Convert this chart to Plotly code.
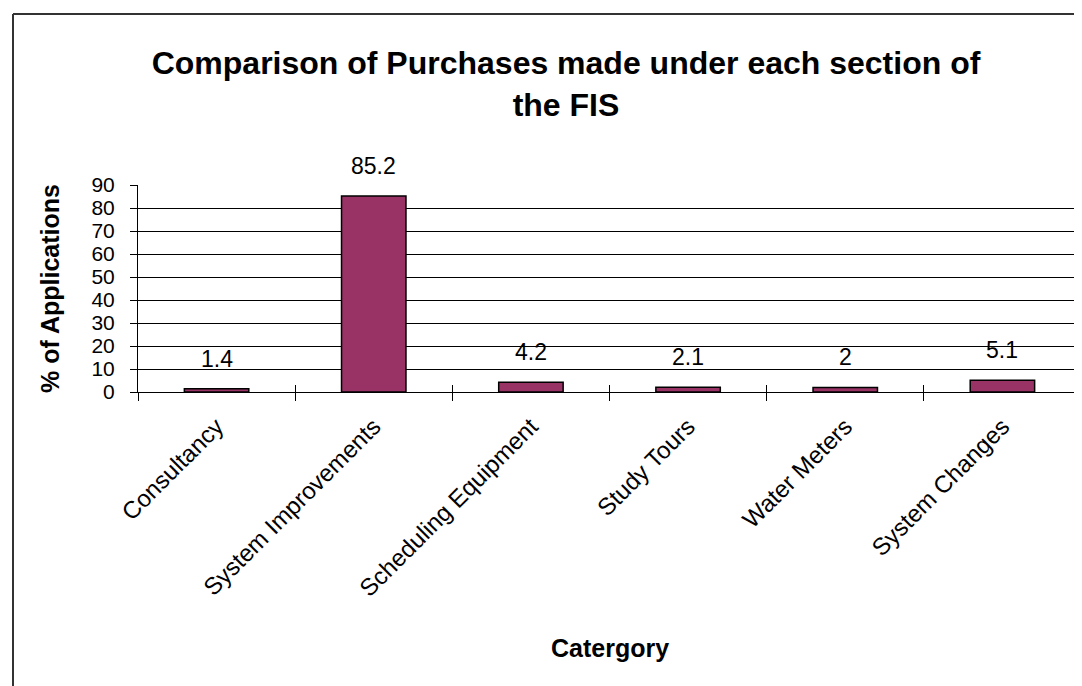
import plotly.graph_objects as go

categories = ["Consultancy", "System Improvements", "Scheduling Equipment",
              "Study Tours", "Water Meters", "System Changes"]
values = [1.4, 85.2, 4.2, 2.1, 2.0, 5.1]
value_labels = ["1.4", "85.2", "4.2", "2.1", "2", "5.1"]
y_ticks = [0, 10, 20, 30, 40, 50, 60, 70, 80, 90]
grid_ticks = [10, 20, 30, 40, 50, 60, 70, 80]

title_text = "Comparison of Purchases made under each section of<br>the FIS"
x_title = "Catergory"
y_title = "% of Applications"

FONT = "Liberation Sans, Arial, sans-serif"
W, H = 1082, 686
L, R, T, B = 130, 9, 177, 302
pw, ph = W - L - R, H - T - B


def px_x(p):
    return (p - L) / pw


def px_y(p):
    return (H - B - p) / ph


fig = go.Figure()
fig.add_trace(go.Bar(
    x=categories, y=values, width=0.41,
    marker=dict(color="#993366", line=dict(color="black", width=1.5)),
    hoverinfo="x+y", xaxis="x", yaxis="y",
))
# invisible helpers so overlay axes are drawn
fig.add_trace(go.Scatter(x=categories, y=values, mode="markers",
                         marker=dict(opacity=0), hoverinfo="skip",
                         xaxis="x2", yaxis="y2", showlegend=False))
fig.add_trace(go.Scatter(x=categories, y=values, mode="markers",
                         marker=dict(opacity=0), hoverinfo="skip",
                         xaxis="x", yaxis="y3", showlegend=False))

for c, v, t in zip(categories, values, value_labels):
    fig.add_annotation(x=c, y=v, xref="x", yref="y", text=t, showarrow=False,
                       yanchor="bottom", yshift=15,
                       font=dict(family=FONT, size=23, color="black"))

fig.add_annotation(x=px_x(602), y=px_y(640), xref="paper", yref="paper",
                   text="<b>%s</b>" % x_title, showarrow=False,
                   xanchor="center", yanchor="middle",
                   font=dict(family=FONT, size=25, color="black"))

# border (top and left edges visible)
fig.add_shape(type="line", xref="paper", yref="paper",
              x0=px_x(5), x1=px_x(W + 5), y0=px_y(6), y1=px_y(6),
              line=dict(color="#333333", width=2))
fig.add_shape(type="line", xref="paper", yref="paper",
              x0=px_x(5), x1=px_x(5), y0=px_y(6), y1=px_y(H + 5),
              line=dict(color="#333333", width=2))

fig.update_layout(
    width=W, height=H,
    margin=dict(l=L, r=R, t=T, b=B, autoexpand=False),
    paper_bgcolor="white", plot_bgcolor="white",
    showlegend=False,
    font=dict(family=FONT, size=22, color="black"),
    title=dict(text="<b>%s</b>" % title_text, xref="paper", x=px_x(558),
               xanchor="center", yref="container", y=1 - 66 / H,
               yanchor="middle", font=dict(family=FONT, size=32, color="black")),
    xaxis=dict(type="category", range=[-0.5, 5.5], showline=True,
               linecolor="black", linewidth=1, ticks="outside", ticklen=8,
               tickcolor="black", tickson="boundaries", tickangle=-45,
               ticklabelstandoff=10, showgrid=False, zeroline=False,
               tickfont=dict(family=FONT, size=24)),
    xaxis2=dict(type="category", overlaying="x", anchor="y", range=[-0.5, 5.5],
                ticks="inside", ticklen=7, tickcolor="black",
                tickson="boundaries", showticklabels=False, showgrid=False,
                showline=False, zeroline=False, side="bottom"),
    yaxis=dict(range=[0, 90], tickvals=y_ticks, ticks="outside", ticklen=7,
               tickcolor="black", showline=True, linecolor="black",
               linewidth=1, showgrid=False, zeroline=False,
               ticklabelstandoff=11, tickfont=dict(family=FONT, size=21),
               title=dict(text="<b>%s</b>" % y_title, standoff=24,
                          font=dict(family=FONT, size=25))),
    yaxis2=dict(range=[0, 90], overlaying="y", anchor="x", tickvals=grid_ticks,
                showgrid=True, gridcolor="black", gridwidth=1, ticks="",
                showticklabels=False, showline=False, zeroline=False),
    yaxis3=dict(range=[0, 90], overlaying="y", anchor="x", tickvals=y_ticks,
                ticks="inside", ticklen=7, tickcolor="black", showgrid=False,
                showticklabels=False, showline=False, zeroline=False),
)

fig.write_html("out.html")
